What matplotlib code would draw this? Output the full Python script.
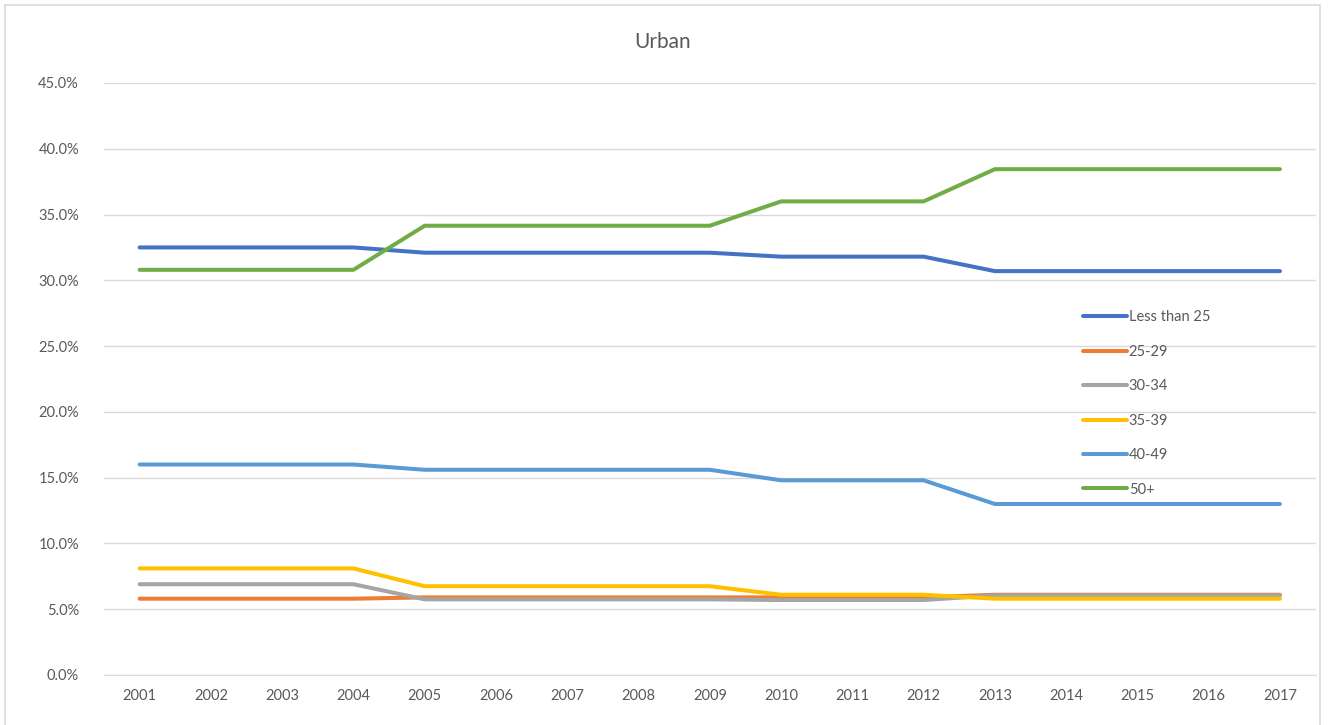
import matplotlib.pyplot as plt
from matplotlib.patches import Rectangle
from matplotlib.ticker import FuncFormatter

years = list(range(2001, 2018))

# share of each age group, in percent
less_than_25 = [32.5] * 4 + [32.1] * 5 + [31.8] * 3 + [30.7] * 5
age_25_29 = [5.8] * 4 + [5.9] * 5 + [5.9] * 3 + [6.1] * 5
age_30_34 = [6.9] * 4 + [5.75] * 5 + [5.7] * 3 + [6.05] * 5
age_35_39 = [8.1] * 4 + [6.75] * 5 + [6.1] * 3 + [5.8] * 5
age_40_49 = [16.0] * 4 + [15.6] * 5 + [14.8] * 3 + [13.0] * 5
age_50_plus = [30.8] * 4 + [34.15] * 5 + [36.0] * 3 + [38.45] * 5

series = [
    ("Less than 25", less_than_25, "#4472C4"),
    ("25-29", age_25_29, "#ED7D31"),
    ("30-34", age_30_34, "#A5A5A5"),
    ("35-39", age_35_39, "#FFC000"),
    ("40-49", age_40_49, "#5B9BD5"),
    ("50+", age_50_plus, "#70AD47"),
]

plt.rcParams['font.family'] = ['Lato', 'DejaVu Sans']
text_color = "#595959"

fig = plt.figure(figsize=(13.29, 7.25), dpi=100)
# chart frame like the Excel chart area
fig.patches.append(Rectangle((5 / 1329, -0.01), 1315 / 1329, 1 - 5 / 725 + 0.01,
                             transform=fig.transFigure, fill=False,
                             edgecolor="#D9D9D9", linewidth=1.2))

ax = fig.add_axes([104 / 1329, 1 - 675 / 725, (1315.6 - 104) / 1329, (675 - 83) / 725])

x = list(range(len(years)))
for name, vals, color in series:
    ax.plot(x, vals, color=color, linewidth=2.9, label=name, solid_capstyle="round")

ax.set_xlim(-0.5, len(years) - 0.5)
ax.set_ylim(0, 45)
ax.set_yticks(range(0, 46, 5))
ax.yaxis.set_major_formatter(FuncFormatter(lambda v, p: f"{v:.1f}%"))
ax.set_xticks(x)
ax.set_xticklabels([str(y) for y in years])
ax.grid(axis="y", color="#D9D9D9", linewidth=1)
ax.set_axisbelow(True)
for s in ax.spines.values():
    s.set_visible(False)
ax.spines["bottom"].set_visible(True)
ax.spines["bottom"].set_color("#D9D9D9")
ax.tick_params(length=0, colors=text_color, labelsize=10.5)
ax.tick_params(axis="y", pad=18)
ax.tick_params(axis="x", pad=10)

fig.text(663 / 1329, 1 - 42 / 725, "Urban", color=text_color, fontsize=15,
         ha="center", va="center")

leg = ax.legend(loc="upper left", bbox_to_anchor=(0.797, 0.638), frameon=False,
                fontsize=10.5, labelcolor=text_color, handlelength=3.0,
                handletextpad=0.15, labelspacing=1.4)

fig.savefig("out.png", dpi=100)
